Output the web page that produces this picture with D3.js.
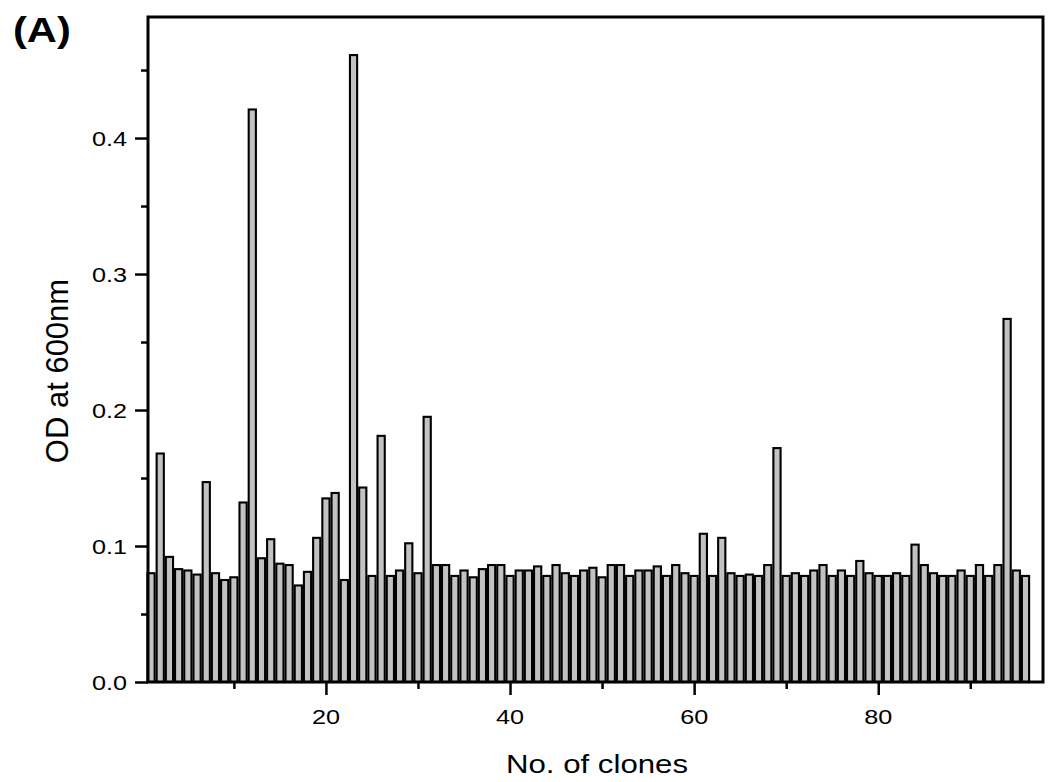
<!DOCTYPE html>
<html>
<head>
<meta charset="utf-8">
<script src="https://cdn.jsdelivr.net/npm/d3@7"></script>
<style>
  html, body { margin: 0; padding: 0; background: #fff; }
  svg { display: block; }
  text { font-family: "Liberation Sans", Arial, Helvetica, sans-serif; fill: #000; }
</style>
</head>
<body>
<svg id="chart" width="1053" height="782"></svg>
<script>
// ---- data ----
const clones = d3.range(1, 97);
const odValues = [
  0.080, 0.168, 0.092, 0.083, 0.082, 0.079, 0.147, 0.080, 0.075, 0.077,
  0.132, 0.421, 0.091, 0.105, 0.087, 0.086, 0.071, 0.081, 0.106, 0.135,
  0.139, 0.075, 0.461, 0.143, 0.078, 0.181, 0.078, 0.082, 0.102, 0.080,
  0.195, 0.086, 0.086, 0.078, 0.082, 0.077, 0.083, 0.086, 0.086, 0.078,
  0.082, 0.082, 0.085, 0.078, 0.086, 0.080, 0.078, 0.082, 0.084, 0.077,
  0.086, 0.086, 0.078, 0.082, 0.082, 0.085, 0.078, 0.086, 0.080, 0.078,
  0.109, 0.078, 0.106, 0.080, 0.078, 0.079, 0.078, 0.086, 0.172, 0.078,
  0.080, 0.078, 0.082, 0.086, 0.078, 0.082, 0.078, 0.089, 0.080, 0.078,
  0.078, 0.080, 0.078, 0.101, 0.086, 0.080, 0.078, 0.078, 0.082, 0.078,
  0.086, 0.078, 0.086, 0.267, 0.082, 0.078
];
const xMajorTicks = [20, 40, 60, 80];
const xMinorTicks = [10, 30, 50, 70, 90];
const yMajorTicks = [0.0, 0.1, 0.2, 0.3, 0.4];
const yMinorTicks = [0.05, 0.15, 0.25, 0.35, 0.45];
const xTitle = "No. of clones";
const yTitle = "OD at 600nm";
const panelLabel = "(A)";

// ---- layout ----
const plotLeft = 148, plotRight = 1043, plotTop = 17, plotBottom = 682;
const stretch = 1.2; // horizontal stretch of text in the reference

const svg = d3.select("#chart");
const x = d3.scaleLinear().domain([0.67, 97.9]).range([plotLeft, plotRight]);
const y = d3.scaleLinear().domain([0, 0.489]).range([plotBottom, plotTop]);

const barW = 7.2;

// bars
svg.append("g").selectAll("rect")
  .data(clones)
  .join("rect")
  .attr("x", d => x(d) - barW / 2)
  .attr("width", barW)
  .attr("y", (d, i) => y(odValues[i]))
  .attr("height", (d, i) => y(0) - y(odValues[i]))
  .attr("fill", "#c2c2c2")
  .attr("stroke", "#000")
  .attr("stroke-width", 2.1);

// frame
svg.append("rect")
  .attr("x", plotLeft).attr("y", plotTop)
  .attr("width", plotRight - plotLeft).attr("height", plotBottom - plotTop)
  .attr("fill", "none").attr("stroke", "#000").attr("stroke-width", 3);

// axes ticks via d3 axes
const xMajor = d3.axisBottom(x).tickValues(xMajorTicks).tickSize(13).tickFormat("");
const xMinor = d3.axisBottom(x).tickValues(xMinorTicks).tickSize(7).tickFormat("");
const yMajor = d3.axisLeft(y).tickValues(yMajorTicks).tickSize(13).tickFormat("");
const yMinor = d3.axisLeft(y).tickValues(yMinorTicks).tickSize(7).tickFormat("");

function styleAxis(g) {
  g.select(".domain").remove();
  g.selectAll(".tick line").attr("stroke", "#000").attr("stroke-width", 2.5);
}
svg.append("g").attr("transform", `translate(0,${plotBottom})`).call(xMajor).call(styleAxis);
svg.append("g").attr("transform", `translate(0,${plotBottom})`).call(xMinor).call(styleAxis);
svg.append("g").attr("transform", `translate(${plotLeft},0)`).call(yMajor).call(styleAxis);
svg.append("g").attr("transform", `translate(${plotLeft},0)`).call(yMinor).call(styleAxis);

// tick labels
svg.append("g").selectAll("text")
  .data(xMajorTicks)
  .join("text")
  .attr("transform", d => `translate(${x(d)},724) scale(${stretch},1)`)
  .attr("text-anchor", "middle")
  .attr("font-size", 21)
  .text(d => d);

svg.append("g").selectAll("text")
  .data(yMajorTicks)
  .join("text")
  .attr("transform", d => `translate(127,${y(d)}) scale(${stretch},1)`)
  .attr("text-anchor", "end")
  .attr("dy", "0.36em")
  .attr("font-size", 21)
  .text(d => d3.format(".1f")(d));

// axis titles
svg.append("text")
  .attr("transform", `translate(597,773) scale(${stretch},1)`)
  .attr("text-anchor", "middle")
  .attr("font-size", 26)
  .text(xTitle);

svg.append("text")
  .attr("transform", `translate(68,371) rotate(-90)`)
  .attr("text-anchor", "middle")
  .attr("font-size", 31)
  .text(yTitle);

// panel label
svg.append("text")
  .attr("transform", `translate(13,42) scale(1.19,1)`)
  .attr("font-size", 35)
  .attr("font-weight", "bold")
  .text(panelLabel);
</script>
</body>
</html>
